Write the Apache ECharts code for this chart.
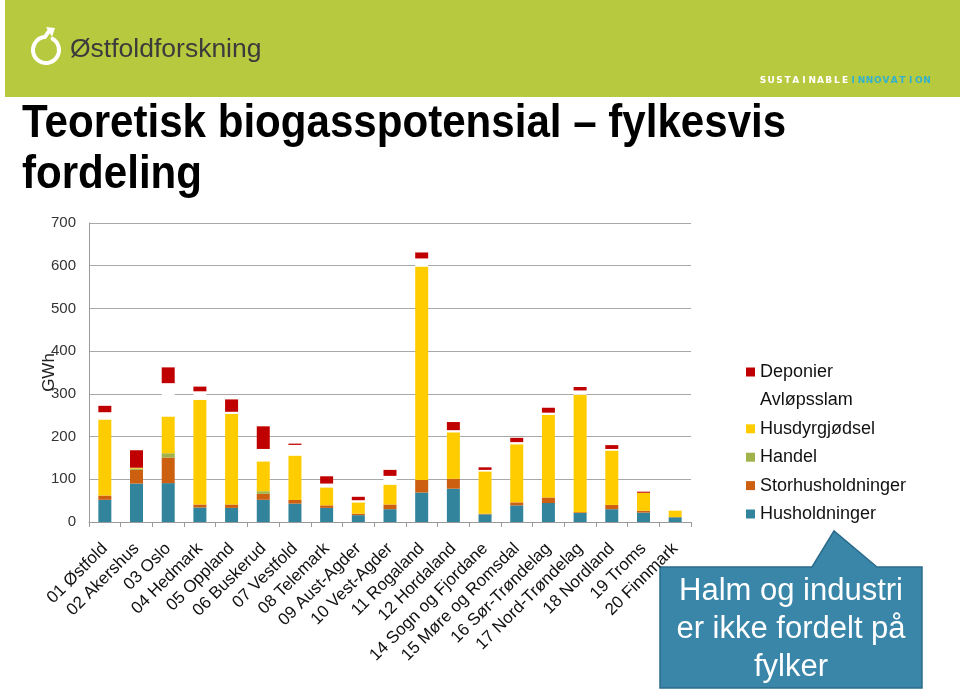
<!DOCTYPE html>
<html>
<head>
<meta charset="utf-8">
<script src="https://cdn.jsdelivr.net/npm/echarts@6/dist/echarts.min.js"></script>
<style>
html,body{margin:0;padding:0;background:#fff;}
#chart{width:960px;height:691px;}
</style>
</head>
<body>
<div id="chart"></div>
<script>
// ---- data ----
var categories = ['01 Østfold','02 Akershus','03 Oslo','04 Hedmark','05 Oppland','06 Buskerud','07 Vestfold','08 Telemark','09 Aust-Agder','10 Vest-Agder','11 Rogaland','12 Hordaland','14 Sogn og Fjordane','15 Møre og Romsdal','16 Sør-Trøndelag','17 Nord-Trøndelag','18 Nordland','19 Troms','20 Finnmark'];
var husholdninger     = [52, 90, 91, 34, 33, 52, 43, 33, 16, 30, 69, 78, 18, 39, 44.5, 21, 30, 22, 11];
var storhusholdninger = [10, 32, 60, 7, 8, 14, 8.5, 6, 3.5, 11, 29.5, 23, 1.5, 7, 13, 2, 10, 4.5, 0.5];
var handel            = [0, 3, 10, 0, 0, 6, 0, 0, 0, 0, 0, 0, 0, 0, 0, 0, 0, 0, 0];
var husdyrgjodsel     = [178, 2, 86, 245, 212, 70, 104, 42, 26.5, 46.5, 499.5, 109, 99, 136, 193, 275, 127.5, 42, 15];
var avlopsslam        = [17, 0, 78, 20, 5, 29, 25, 9, 5, 20.5, 19, 5, 3.5, 5, 5.5, 10, 3.5, 0, 0];
var deponier          = [15, 41, 37, 11, 29, 53, 3, 17, 8, 14, 14, 19, 6, 10, 11.5, 8, 9, 2.5, 0];
var yTicks = [0, 100, 200, 300, 400, 500, 600, 700];
var seriesNames = ['Husholdninger','Storhusholdninger','Handel','Husdyrgjødsel','Avløpsslam','Deponier'];
var legendOrder = ['Deponier','Avløpsslam','Husdyrgjødsel','Handel','Storhusholdninger','Husholdninger'];

var FONT = '"Liberation Sans", Arial, sans-serif';
var seriesData = [husholdninger, storhusholdninger, handel, husdyrgjodsel, avlopsslam, deponier];
var seriesColors = ['#31849b', '#cc6010', '#9fb34a', '#ffcc00', '#ffffff', '#c00000'];

var chart = echarts.init(document.getElementById('chart'), null, {renderer: 'canvas'});

// header letters "SUSTAINABLE INNOVATION"
var tagA = 'SUSTAINABLE', tagB = 'INNOVATION';
var tagEls = [];
var tag = tagA + tagB;
for (var i = 0; i < tag.length; i++) {
  tagEls.push({
    type: 'text', silent: true,
    style: {
      text: tag[i], x: 763 + i * 8.2, y: 81,
      font: 'bold 9px "DejaVu Sans", sans-serif',
      fill: i < tagA.length ? '#ffffff' : '#31b0cf',
      align: 'center', verticalAlign: 'middle'
    }
  });
}

var graphics = [
  {type: 'rect', shape: {x: 5, y: 0, width: 955, height: 97}, style: {fill: '#b7c93f'}, silent: true, z: -10},
  // logo icon
  {type: 'arc', shape: {cx: 46, cy: 50, r: 13, startAngle: -Math.PI / 3, endAngle: Math.PI * 1.5 - 0.12, clockwise: true},
   style: {stroke: '#ffffff', lineWidth: 4, fill: null, lineCap: 'round'}, silent: true},
  {type: 'polyline', shape: {points: [[45, 37], [49, 31]]}, style: {stroke: '#ffffff', lineWidth: 4, lineCap: 'round'}, silent: true},
  {type: 'polygon', shape: {points: [[46, 27], [55, 28], [52, 37]]}, style: {fill: '#ffffff'}, silent: true},
  {type: 'text', x: 70, y: 50, silent: true,
   style: {text: 'Østfoldforskning', font: '26.5px ' + FONT, fill: '#3b3b3b', verticalAlign: 'middle'}},
  // title
  {type: 'text', x: 22, y: 124, scaleX: 0.915, silent: true,
   style: {text: 'Teoretisk biogasspotensial – fylkesvis', font: 'bold 46px ' + FONT, fill: '#000000', verticalAlign: 'middle'}},
  {type: 'text', x: 22, y: 175, scaleX: 0.915, silent: true,
   style: {text: 'fordeling', font: 'bold 46px ' + FONT, fill: '#000000', verticalAlign: 'middle'}},
  // callout
  {type: 'polygon', silent: true,
   shape: {points: [[660, 567], [812, 567], [834, 531], [877, 567], [922, 567], [922, 688], [660, 688]]},
   style: {fill: '#3a86a9', stroke: '#2b6c8c', lineWidth: 1.5}},
  {type: 'text', silent: true,
   style: {text: 'Halm og industri\ner ikke fordelt på\nfylker', x: 791, y: 629, font: '31px ' + FONT, fill: '#ffffff',
           align: 'center', verticalAlign: 'middle', lineHeight: 38}}
].concat(tagEls);

var series = seriesNames.map(function (name, idx) {
  return {
    name: name, type: 'bar', stack: 'total', barWidth: 13,
    data: seriesData[idx],
    itemStyle: {color: seriesColors[idx]},
    emphasis: {disabled: true}
  };
});

chart.setOption({
  animation: false,
  textStyle: {fontFamily: FONT},
  grid: {left: 89, right: 269, top: 223, bottom: 169, containLabel: false},
  legend: {
    orient: 'vertical', left: 741, top: 358, itemWidth: 9, itemHeight: 9, itemGap: 10.4,
    icon: 'rect', data: legendOrder, selectedMode: false,
    textStyle: {fontSize: 18, color: '#111', fontFamily: FONT}
  },
  xAxis: {
    type: 'category', data: categories,
    axisLine: {lineStyle: {color: '#9a9a9a', width: 1}},
    axisTick: {show: true, length: 5, lineStyle: {color: '#9a9a9a'}},
    axisLabel: {rotate: 45, interval: 0, fontSize: 17, color: '#111', margin: 24, fontFamily: FONT}
  },
  yAxis: {
    type: 'value', min: yTicks[0], max: yTicks[yTicks.length - 1], interval: 100,
    name: 'GWh', nameLocation: 'middle', nameGap: 31, nameRotate: 90, nameMoveOverlap: false,
    nameTextStyle: {fontSize: 17, color: '#222', fontFamily: FONT},
    axisLine: {show: true, lineStyle: {color: '#9a9a9a'}},
    axisTick: {show: false},
    axisLabel: {fontSize: 15, color: '#333', margin: 13, fontFamily: FONT},
    splitLine: {lineStyle: {color: '#a8a8a8', width: 1}}
  },
  series: series,
  graphic: graphics
});
</script>
</body>
</html>
